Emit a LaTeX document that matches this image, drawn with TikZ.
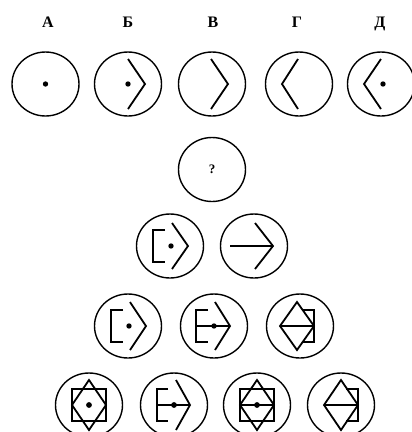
\documentclass[tikz,border=0pt]{standalone}
\usepackage{fontspec}
\setmainfont{Liberation Serif}
\usepackage{tikz}
\usetikzlibrary{shapes.geometric, positioning}

\begin{document}
\begin{tikzpicture}[
    x=1pt, y=-1pt,
    ring/.style={ellipse, draw, line width=1.4pt, minimum width=67pt, minimum height=64pt, inner sep=0pt},
    letter/.style={anchor=base, font=\fontsize{16}{18}\selectfont\bfseries},
    glyph/.style={line width=1.8pt, line join=miter},
    dot/.style={fill=black}
]
\useasboundingbox (0,0) rectangle (412,432);

% answer options
\node[letter] (lA) at (48,27) {А};
\node[letter] (lB) at (128,27) {Б};
\node[letter] (lV) at (213,27) {В};
\node[letter] (lG) at (297,27) {Г};
\node[letter] (lD) at (380,27) {Д};

\node[ring] (A) at (45.5,84) {};
\node[ring] (B) at (128,84) {};
\node[ring] (V) at (212,84) {};
\node[ring] (G) at (299,84) {};
\node[ring] (D) at (381,84) {};

\fill[dot, shift={(A)}] (0,0) circle (2.7);
\draw[glyph, shift={(B)}] (0,-25) -- (17,0) -- (0,25);
\fill[dot, shift={(B)}] (0,0) circle (2.7);
\draw[glyph, shift={(V)}] (-1,-25) -- (16,0) -- (-1,25);
\draw[glyph, shift={(G)}] (-1,-25) -- (-17,0) -- (-1,25);
\draw[glyph, shift={(D)}] (0,-25) -- (-17,0) -- (0,25);
\fill[dot, shift={(D)}] (2,0) circle (2.7);

% question
\node[ring, font=\fontsize{13}{14}\selectfont\bfseries] (Q) at (212,169.5) {?};

% row 1
\node[ring] (R1) at (170,246) {};
\node[ring] (R2) at (254,246) {};

\draw[glyph, shift={(R1)}] (-5,-16) -- (-17,-16) -- (-17,16) -- (-5,16);
\draw[glyph, shift={(R1)}] (2,-23) -- (18,0) -- (2,23);
\fill[dot, shift={(R1)}] (1,0) circle (2.7);
\draw[glyph, shift={(R2)}] (-24,0) -- (19,0);
\draw[glyph, shift={(R2)}] (1,-23) -- (19,0) -- (1,23);

% row 2
\node[ring] (S1) at (128,326) {};
\node[ring] (S2) at (214,326) {};
\node[ring] (S3) at (300,326) {};

\draw[glyph, shift={(S1)}] (-5,-16) -- (-17,-16) -- (-17,16) -- (-5,16);
\draw[glyph, shift={(S1)}] (2,-24) -- (18,0) -- (2,24);
\fill[dot, shift={(S1)}] (1,0) circle (2.7);

\draw[glyph, shift={(S2)}] (-6,-16) -- (-18,-16) -- (-18,16) -- (-6,16);
\draw[glyph, shift={(S2)}] (-18,0) -- (16,0);
\draw[glyph, shift={(S2)}] (1,-24) -- (16,0) -- (1,24);
\fill[dot, shift={(S2)}] (0,0) circle (2.7);

\draw[glyph, shift={(S3)}] (-20,0) -- (-3,-24) -- (14,0) -- (-3,24) -- cycle;
\draw[glyph, shift={(S3)}] (-20,0) -- (14,0);
\draw[glyph, shift={(S3)}] (2,-16) -- (14,-16) -- (14,16) -- (2,16);

% row 3
\node[ring] (T1) at (89,405) {};
\node[ring] (T2) at (174,405) {};
\node[ring] (T3) at (257,405) {};
\node[ring] (T4) at (341,405) {};

\draw[glyph, shift={(T1)}] (-17,-16) rectangle (17,16);
\draw[glyph, shift={(T1)}] (-17,0) -- (0,-25) -- (17,0) -- (0,25) -- cycle;
\fill[dot, shift={(T1)}] (0,0) circle (2.9);

\draw[glyph, shift={(T2)}] (-6,-16) -- (-17,-16) -- (-17,16) -- (-6,16);
\draw[glyph, shift={(T2)}] (-17,0) -- (16,0);
\draw[glyph, shift={(T2)}] (2,-25) -- (16,0) -- (2,25);
\fill[dot, shift={(T2)}] (0,0) circle (2.9);

\draw[glyph, shift={(T3)}] (-17,-16) rectangle (17,16);
\draw[glyph, shift={(T3)}] (-17,0) -- (0,-25) -- (17,0) -- (0,25) -- cycle;
\draw[glyph, shift={(T3)}] (-17,0) -- (17,0);
\fill[dot, shift={(T3)}] (0,0) circle (2.9);

\draw[glyph, shift={(T4)}] (-17,0) -- (0,-25) -- (17,0) -- (0,25) -- cycle;
\draw[glyph, shift={(T4)}] (-17,0) -- (17,0);
\draw[glyph, shift={(T4)}] (5,-16) -- (17,-16) -- (17,16) -- (5,16);
\end{tikzpicture}
\end{document}
